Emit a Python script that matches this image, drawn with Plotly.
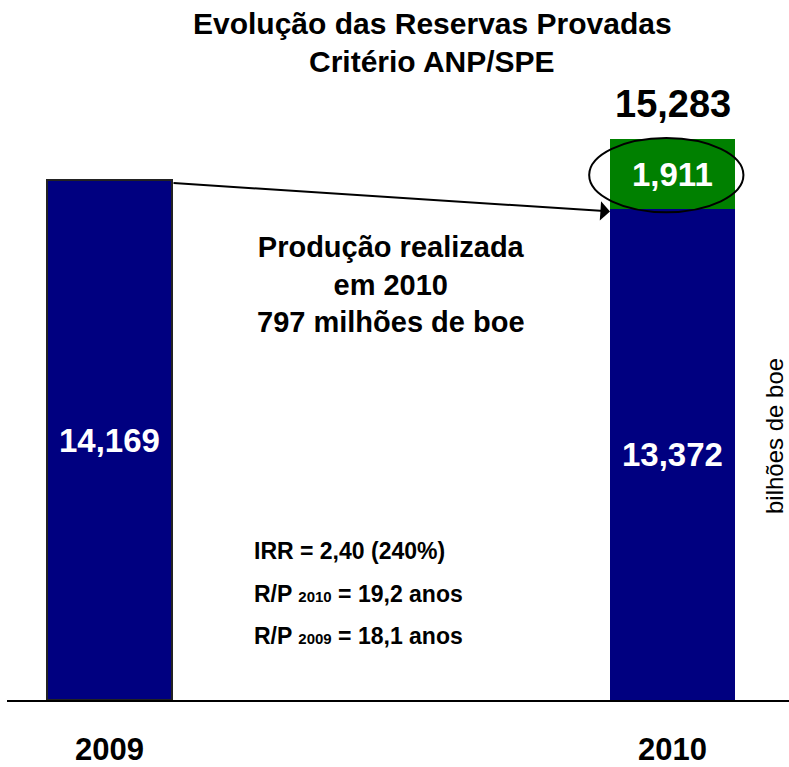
import plotly.graph_objects as go

# ---- data ----
years = ["2009", "2010"]
x_pos = [0, 1]
reserves_base = [14169, 13372]      # milhões de boe
additions = [None, 1911]
total_2010 = 15283
base_labels = ["14,169", "13,372"]
addition_label = "1,911"
total_label = "15,283"
title_lines = ["Evolução das Reservas Provadas", "Critério ANP/SPE"]
production_text = "Produção realizada<br>em 2010<br>797 milhões de boe"
ratio_lines = [
    "IRR = 2,40 (240%)",
    "R/P <span style='font-size:15px'>2010</span> = 19,2 anos",
    "R/P <span style='font-size:15px'>2009</span> = 18,1 anos",
]
unit_label = "bilhões de boe"

NAVY = "#000080"
GREEN = "#008000"
FONT = "Arial, Liberation Sans, sans-serif"
W, H = 789, 767
L, R, T, B = 7, 0, 0, 67
bar_w = 0.222

def px(x):
    return (x - L) / (W - L - R)

def py(y):
    return (H - B - y) / (H - T - B)

fig = go.Figure()
fig.add_trace(go.Bar(
    x=x_pos, y=reserves_base, width=bar_w,
    marker=dict(color=NAVY, line=dict(color=["#222222", NAVY], width=[1.5, 0])),
    hoverinfo="skip",
))
fig.add_trace(go.Bar(
    x=x_pos, y=additions, width=bar_w,
    marker=dict(color=GREEN, line=dict(width=0)),
    hoverinfo="skip",
))

ann = []
# inside labels
for xi, v, lab in zip(x_pos, reserves_base, base_labels):
    ann.append(dict(x=xi, y=v / 2, xref="x", yref="y", text=f"<b>{lab}</b>",
                    xanchor="center", yanchor="middle",
                    showarrow=False, font=dict(family=FONT, size=33, color="white")))
ann.append(dict(x=x_pos[1], y=reserves_base[1] + additions[1] / 2, xref="x", yref="y",
                xanchor="center", yanchor="middle",
                text=f"<b>{addition_label}</b>", showarrow=False,
                font=dict(family=FONT, size=33, color="white")))
ann.append(dict(x=x_pos[1], y=total_2010, xref="x", yref="y", xanchor="center",
                yanchor="bottom", yshift=12,
                text=f"<b>{total_label}</b>", showarrow=False,
                font=dict(family=FONT, size=38, color="black")))
# arrow from 2009 bar top to 2010 base top
ann.append(dict(x=x_pos[1] - bar_w / 2, y=reserves_base[1] - 60, xref="x", yref="y",
                ax=x_pos[0] + bar_w / 2, ay=reserves_base[0] - 80, axref="x", ayref="y",
                text="", showarrow=True, arrowhead=1, arrowsize=1.6, arrowwidth=2,
                arrowcolor="black", standoff=0, startstandoff=0))
# title
for i, line in enumerate(title_lines):
    ann.append(dict(x=px(432), y=py(24 + 37 * i), xref="paper", yref="paper",
                    xanchor="center", yanchor="middle", text=f"<b>{line}</b>",
                    showarrow=False, font=dict(family=FONT, size=30, color="black")))
# production text
ann.append(dict(x=px(391), y=py(284), xref="paper", yref="paper", text=f"<b>{production_text}</b>",
                xanchor="center", yanchor="middle", showarrow=False, align="center",
                font=dict(family=FONT, size=29, color="black")))
# ratio lines
for i, line in enumerate(ratio_lines):
    ann.append(dict(x=px(252), y=py(551 + 42.5 * i), xref="paper", yref="paper",
                    xanchor="left", yanchor="middle",
                    text=f"<b>{line}</b>", showarrow=False,
                    font=dict(family=FONT, size=23, color="black")))
# unit label
ann.append(dict(x=px(775), y=py(436), xref="paper", yref="paper", text=unit_label,
                xanchor="center", yanchor="middle",
                textangle=-90, showarrow=False,
                font=dict(family=FONT, size=24, color="black")))

# ellipse around the addition
pad_lo, pad_hi = 80, 30
fig.add_shape(type="circle", xref="x", yref="y",
              x0=x_pos[1] - 0.148, x1=x_pos[1] + 0.126,
              y0=reserves_base[1] - pad_lo, y1=total_2010 + pad_hi,
              line=dict(color="black", width=2), fillcolor="rgba(0,0,0,0)")

px_per_unit = 0.0367
fig.update_layout(
    width=W, height=H, barmode="stack", showlegend=False,
    margin=dict(l=L, r=R, t=T, b=B, pad=0),
    plot_bgcolor="white", paper_bgcolor="white",
    annotations=ann,
    xaxis=dict(range=[-102.5 / 563, (W - L - R - 102.5) / 563], tickvals=x_pos, ticktext=years,
               showline=True, linecolor="black", linewidth=2, showgrid=False, zeroline=False,
               ticks="", ticklabelstandoff=21, automargin=False,
               tickfont=dict(family=FONT, size=31, color="black", weight="bold")),
    yaxis=dict(range=[0, (H - T - B) / px_per_unit], visible=False, showgrid=False, zeroline=False),
)

fig.write_html("out.html", config={"displayModeBar": False},
               post_script="document.body.style.margin='0px';")
